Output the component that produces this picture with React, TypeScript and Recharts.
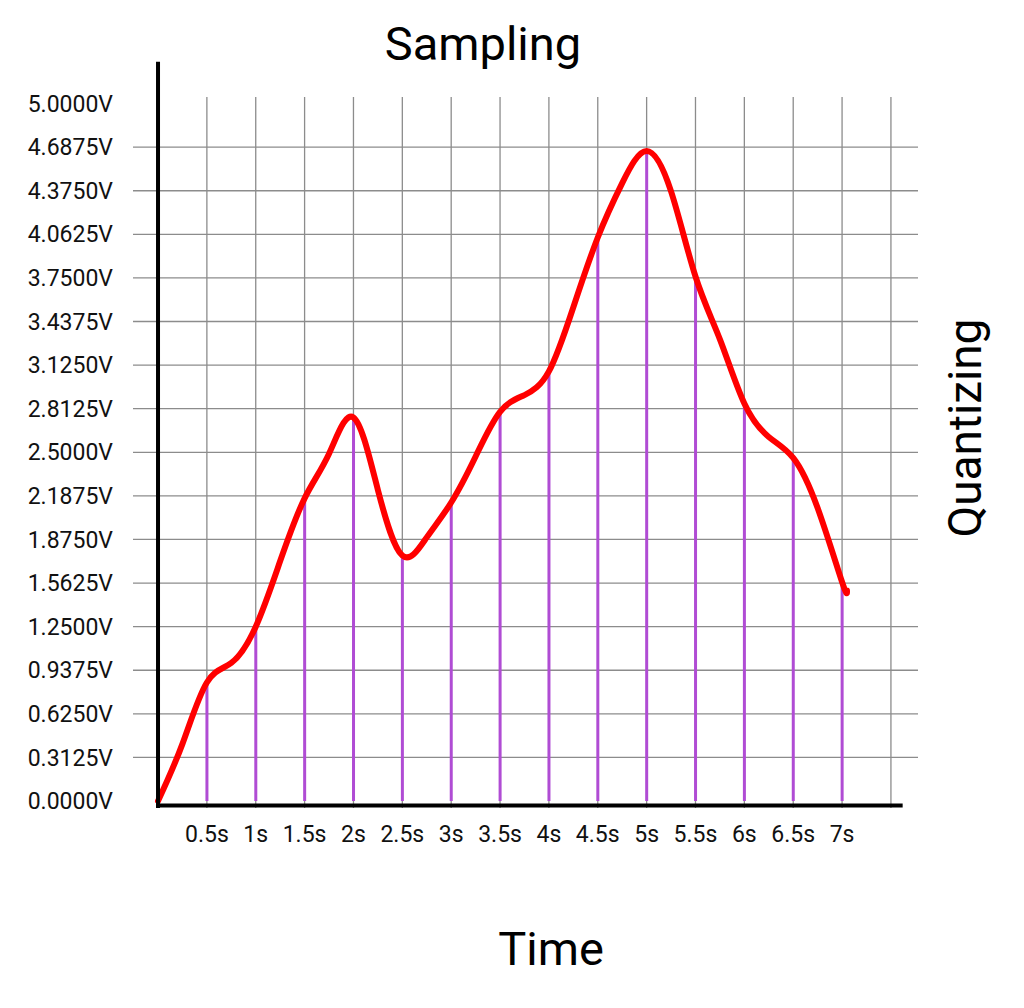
import { ComposedChart, Line, Bar, XAxis, YAxis, ReferenceLine, CartesianGrid } from "recharts";

// red analog signal, every 0.25 s (seconds / volts)
const curveT = [0, 0.25, 0.5, 0.75, 1, 1.25, 1.5, 1.75, 2, 2.25, 2.5, 2.75, 3, 3.25, 3.5, 3.75, 4, 4.25, 4.5, 4.75, 5, 5.25, 5.5, 5.75, 6, 6.25, 6.5, 6.75, 7, 7.05];
const curveV = [0, 0.41, 0.85, 0.99, 1.25, 1.72, 2.17, 2.49, 2.75, 2.23, 1.76, 1.89, 2.14, 2.47, 2.79, 2.91, 3.08, 3.54, 4.04, 4.43, 4.66, 4.37, 3.76, 3.31, 2.85, 2.61, 2.46, 2.1, 1.57, 1.51];

// purple sample stems
const sampleT = [0.5, 1, 1.5, 2, 2.5, 3, 3.5, 4, 4.5, 5, 5.5, 6, 6.5, 7];
const sampleV = [0.85, 1.25, 2.17, 2.75, 1.76, 2.14, 2.79, 3.08, 4.04, 4.66, 3.76, 2.85, 2.46, 1.57];

const yTicks = [0, 0.3125, 0.625, 0.9375, 1.25, 1.5625, 1.875, 2.1875, 2.5, 2.8125, 3.125, 3.4375, 3.75, 4.0625, 4.375, 4.6875, 5];
const yGrid = yTicks.slice(1, -1);
const xTicks = [0.5, 1, 1.5, 2, 2.5, 3, 3.5, 4, 4.5, 5, 5.5, 6, 6.5, 7];
const xGrid = [0.5, 1, 1.5, 2, 2.5, 3, 3.5, 4, 4.5, 5, 5.5, 6, 6.5, 7, 7.5];

const curve = curveT.map((t, i) => ({ t, v: curveV[i] }));
const samples = sampleT.map((t, i) => ({ t, s: sampleV[i] }));

const FONT = "Roboto, sans-serif";
const GRID = "#8c8c8c";

export default function App() {
  return (
    <div style={{ position: "absolute", left: 0, top: 0, background: "#fff" }}>
      <ComposedChart width={1024} height={1008} data={samples} margin={{ top: 97, right: 106, bottom: 0, left: 0 }}>
        <CartesianGrid horizontalValues={yGrid} verticalValues={xGrid} stroke={GRID} strokeWidth={1.3} strokeDasharray="" />
        <XAxis
          dataKey="t"
          type="number"
          domain={[-0.256, 7.777]}
          allowDataOverflow
          ticks={xTicks}
          tickFormatter={(v) => `${v}s`}
          axisLine={false}
          tickLine={false}
          height={200}
          interval={0}
          tick={{ fill: "#111", fontSize: 23, fontFamily: FONT, dy: 10 }}
        />
        <YAxis
          type="number"
          domain={[-0.05, 5.047]}
          allowDataOverflow
          ticks={yTicks}
          tickFormatter={(v) => `${v.toFixed(4)}V`}
          axisLine={false}
          tickLine={false}
          width={133}
          interval={0}
          tick={{ fill: "#111", fontSize: 23, fontFamily: FONT, dx: -12 }}
        />
        <Bar dataKey="s" fill="#b04cd4" barSize={3} isAnimationActive={false} />
        <Line
          data={curve}
          dataKey="v"
          type="natural"
          stroke="#ff0000"
          strokeWidth={6}
          strokeLinecap="round"
          dot={false}
          activeDot={false}
          isAnimationActive={false}
        />
        <ReferenceLine segment={[{ x: 0, y: -0.05 }, { x: 0, y: 5.3 }]} stroke="#000" strokeWidth={4} ifOverflow="visible" />
        <ReferenceLine segment={[{ x: -0.02, y: -0.032 }, { x: 7.62, y: -0.032 }]} stroke="#000" strokeWidth={4} ifOverflow="visible" />
        <text x={483} y={60} textAnchor="middle" fontSize={47} fontFamily={FONT} fill="#000">
          Sampling
        </text>
        <text x={551} y={965} textAnchor="middle" fontSize={47} fontFamily={FONT} fill="#000">
          Time
        </text>
        <text transform="translate(981,428) rotate(-90)" textAnchor="middle" fontSize={46} fontFamily={FONT} fill="#000">
          Quantizing
        </text>
      </ComposedChart>
    </div>
  );
}
